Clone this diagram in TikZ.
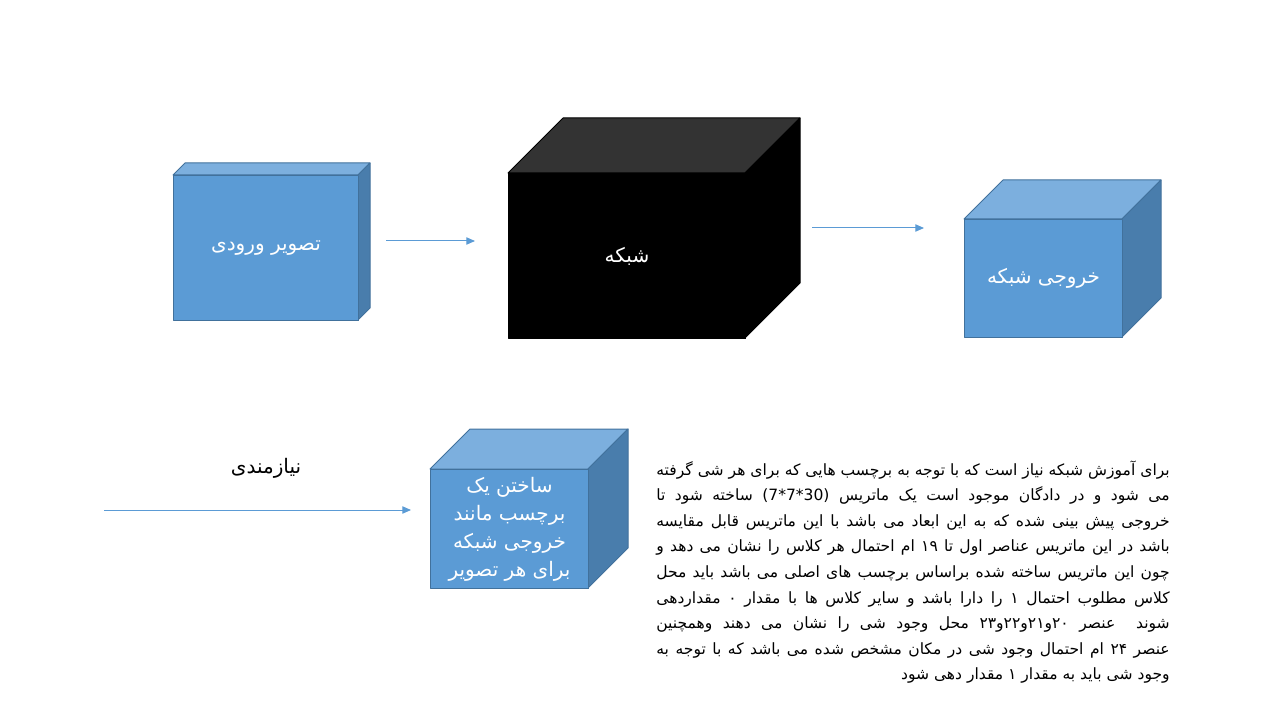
\documentclass[tikz,border=0pt]{standalone}
\usepackage{fontspec}
\newfontfamily\arabicfont[Script=Arabic]{DejaVu Sans}
\TeXXeTstate=1
\usetikzlibrary{arrows.meta}
\definecolor{cubefront}{HTML}{5B9BD5}
\definecolor{cubetop}{HTML}{7CAFDE}
\definecolor{cubeside}{HTML}{497DAC}
\definecolor{cubeedge}{HTML}{41719C}
\definecolor{nettop}{HTML}{333333}
\definecolor{arrowblue}{HTML}{5B9BD5}
\tikzset{
  cubeline/.style={draw=cubeedge, line width=0.75pt, line join=round},
  link/.style={draw=arrowblue, line width=0.75pt, -{Triangle[length=6.5pt,width=5.5pt]}},
  lbl/.style={font=\arabicfont\fontsize{15}{21}\selectfont, text=white, align=center, inner sep=0pt},
  plain/.style={font=\arabicfont\fontsize{15}{21}\selectfont, text=black, inner sep=0pt},
}
% name, x, y (front top-left, px), w, h, depth, front, top, side
\newcommand\mkcube[9]{%
  \filldraw[fill=#8,cubeline] (#2,#3) -- ++(#6,-#6) -- ++(#4,0) -- ++(-#6,#6) -- cycle;
  \filldraw[fill=#9,cubeline] ({#2+#4},#3) -- ++(#6,-#6) -- ++(0,#5) -- ++(-#6,#6) -- cycle;
  \node[cubeline, fill=#7, minimum width=#4*0.75pt, minimum height=#5*0.75pt,
        inner sep=0pt, anchor=north west] (#1) at (#2,#3) {};
}
\def\plA{برای آموزش شبکه نیاز است که با توجه به برچسب هایی که برای هر شی گرفته}
\def\plB{می شود و در دادگان موجود است یک ماتریس \beginL(30*7*7)\endL{} ساخته شود تا}
\def\plC{خروجی پیش بینی شده که به این ابعاد می باشد با این ماتریس قابل مقایسه}
\def\plD{باشد در این ماتریس عناصر اول تا ۱۹ ام احتمال هر کلاس را نشان می دهد و}
\def\plE{چون این ماتریس ساخته شده براساس برچسب های اصلی می باشد باید محل}
\def\plF{کلاس مطلوب احتمال ۱ را دارا باشد و سایر کلاس ها با مقدار ۰ مقداردهی}
\def\plG{شوند \ عنصر \hbox{۲۰}\hbox{و}\hbox{۲۱}\hbox{و}\hbox{۲۲}\hbox{و}\hbox{۲۳} محل وجود شی را نشان می دهند وهمچنین}
\def\plH{عنصر ۲۴ ام احتمال وجود شی در مکان مشخص شده می باشد که با توجه به}
\def\plI{وجود شی باید به مقدار ۱ مقدار دهی شود}
\newsavebox\measbox
\newdimen\maxlw
\newcommand\measureline[1]{\sbox\measbox{\arabicfont\fontsize{10}{12}\selectfont\beginR#1\endR}%
  \ifdim\wd\measbox>\maxlw\global\maxlw=\wd\measbox\fi}
\newcommand\buildpara{%
  \global\maxlw=0pt
  \measureline{\plA}\measureline{\plB}\measureline{\plC}\measureline{\plD}%
  \measureline{\plE}\measureline{\plF}\measureline{\plG}\measureline{\plH}%
  \pgfmathsetmacro\pfs{10*385*1.0/\the\maxlw}%
  \vtop{\hsize=385pt\arabicfont\fontsize{\pfs}{19.2}\selectfont
    \baselineskip=19.2pt\lineskiplimit=-100pt\parindent=0pt
    \hbox to \hsize{\beginR\plA\endR}
    \hbox to \hsize{\beginR\plB\endR}
    \hbox to \hsize{\beginR\plC\endR}
    \hbox to \hsize{\beginR\plD\endR}
    \hbox to \hsize{\beginR\plE\endR}
    \hbox to \hsize{\beginR\plF\endR}
    \hbox to \hsize{\beginR\plG\endR}
    \hbox to \hsize{\beginR\plH\endR}
    \hbox to \hsize{\hfill\beginR\plI\endR}}}
\begin{document}
\begin{tikzpicture}[x=0.75pt,y=-0.75pt]
  \useasboundingbox (0,0) rectangle (1280,720);
  % cubes
  \mkcube{inp}{173}{175}{185}{145}{12}{cubefront}{cubetop}{cubeside}
  \begin{scope}[cubeline/.style={draw=black, line width=0.75pt, line join=round}]
    \mkcube{net}{508}{173}{237}{165}{55}{black}{nettop}{black}
  \end{scope}
  \mkcube{out}{964}{219}{158}{118}{39}{cubefront}{cubetop}{cubeside}
  \mkcube{lab}{430}{469}{158}{119}{40}{cubefront}{cubetop}{cubeside}
  % labels
  \node[lbl] (inp-t) at (inp) {\beginR تصویر ورودی\endR};
  \node[lbl] (net-t) at (net) {\beginR شبکه\endR};
  \node[lbl] (out-t) at (out) {\beginR خروجی شبکه\endR};
  \node[lbl] (lab-t) at (lab) {\beginR ساختن یک\endR\\ \beginR برچسب مانند\endR\\ \beginR خروجی شبکه\endR\\ \beginR برای هر تصویر\endR};
  \node[plain] (need) at (266,468) {\beginR نیازمندی\endR};
  % arrows
  \coordinate (a1s) at (386,241); \coordinate (a1e) at (475,241);
  \coordinate (a2s) at (812,228); \coordinate (a2e) at (924,228);
  \coordinate (a3s) at (104,510); \coordinate (a3e) at (411,510);
  \draw[link] (a1s) -- (a1e);
  \draw[link] (a2s) -- (a2e);
  \draw[link] (a3s) -- (a3e);
  % paragraph
  \node[inner sep=0pt, anchor=base east] (para) at (1170,475) {\buildpara};
\end{tikzpicture}
\end{document}
